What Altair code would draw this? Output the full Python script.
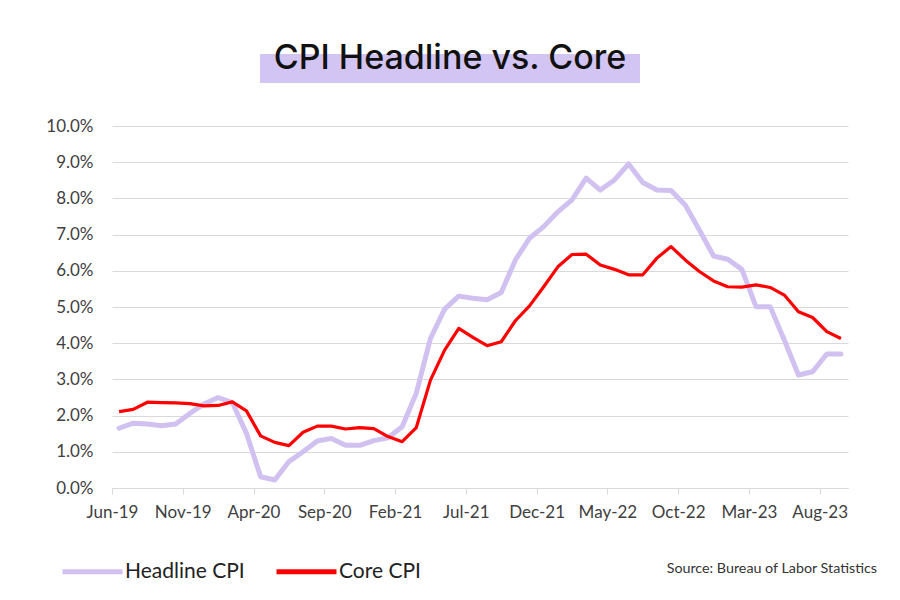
import altair as alt
import pandas as pd

months = [
    "Jun-19", "Jul-19", "Aug-19", "Sep-19", "Oct-19", "Nov-19", "Dec-19",
    "Jan-20", "Feb-20", "Mar-20", "Apr-20", "May-20", "Jun-20", "Jul-20",
    "Aug-20", "Sep-20", "Oct-20", "Nov-20", "Dec-20", "Jan-21", "Feb-21",
    "Mar-21", "Apr-21", "May-21", "Jun-21", "Jul-21", "Aug-21", "Sep-21",
    "Oct-21", "Nov-21", "Dec-21", "Jan-22", "Feb-22", "Mar-22", "Apr-22",
    "May-22", "Jun-22", "Jul-22", "Aug-22", "Sep-22", "Oct-22", "Nov-22",
    "Dec-22", "Jan-23", "Feb-23", "Mar-23", "Apr-23", "May-23", "Jun-23",
    "Jul-23", "Aug-23", "Sep-23",
]

headline_cpi = [
    1.65, 1.79, 1.77, 1.72, 1.77, 2.06, 2.32, 2.50, 2.36, 1.51,
    0.31, 0.22, 0.73, 1.00, 1.30, 1.37, 1.18, 1.18, 1.31, 1.39,
    1.69, 2.62, 4.13, 4.94, 5.30, 5.24, 5.20, 5.40, 6.30, 6.90,
    7.22, 7.63, 7.96, 8.56, 8.23, 8.51, 8.95, 8.44, 8.23, 8.22,
    7.82, 7.13, 6.41, 6.32, 6.04, 5.01, 5.01, 4.09, 3.12, 3.21,
    3.70, 3.70,
]

core_cpi = [
    2.11, 2.17, 2.37, 2.36, 2.35, 2.33, 2.27, 2.28, 2.38, 2.13,
    1.44, 1.26, 1.17, 1.54, 1.71, 1.71, 1.63, 1.67, 1.64, 1.42,
    1.28, 1.67, 2.98, 3.81, 4.41, 4.16, 3.93, 4.04, 4.62, 5.03,
    5.56, 6.11, 6.45, 6.46, 6.16, 6.04, 5.89, 5.89, 6.35, 6.67,
    6.30, 5.98, 5.72, 5.56, 5.55, 5.61, 5.54, 5.33, 4.87, 4.71,
    4.32, 4.13,
]

series_names = ["Headline CPI", "Core CPI"]
series_colors = ["#d0c1f1", "#ff0000"]
y_ticks = [0, 1, 2, 3, 4, 5, 6, 7, 8, 9, 10]
x_tick_months = months[::5]

title_text = "CPI Headline vs. Core"
source_text = "Source: Bureau of Labor Statistics"

rows = []
for i, m in enumerate(months):
    rows.append({"idx": i, "month": m, "series": "Headline CPI", "value": headline_cpi[i]})
    rows.append({"idx": i, "month": m, "series": "Core CPI", "value": core_cpi[i]})
df = pd.DataFrame(rows)

label_array = "[" + ",".join("'" + m + "'" for m in months) + "]"
x_tick_values = [months.index(m) - 0.5 for m in x_tick_months]

x_enc = alt.X(
    "idx:Q",
    scale=alt.Scale(domain=[-0.5, len(months) - 0.5], nice=False, zero=False),
    axis=alt.Axis(
        values=x_tick_values,
        labelExpr=label_array + "[round(datum.value + 0.5)]",
        title=None,
        grid=False,
        domainColor="#d9d9d9",
        domainWidth=1,
        tickColor="#d9d9d9",
        tickSize=6,
        labelPadding=10,
        labelFont="Lato",
        labelFontSize=17,
        labelColor="#404040",
        labelFlush=False,
        labelOverlap=False,
    ),
)
y_enc = alt.Y(
    "value:Q",
    scale=alt.Scale(domain=[0, 10], nice=False),
    axis=alt.Axis(
        values=y_ticks,
        labelExpr="format(datum.value, '.1f') + '%'",
        title=None,
        domain=False,
        ticks=False,
        tickSize=0,
        gridColor="#d9d9d9",
        gridWidth=1,
        labelPadding=19,
        labelFont="Lato",
        labelFontSize=17,
        labelColor="#404040",
    ),
)
color_enc = alt.Color(
    "series:N",
    scale=alt.Scale(domain=series_names, range=series_colors),
    legend=alt.Legend(
        title=None,
        orient="none",
        direction="horizontal",
        legendX=-52,
        legendY=413,
        symbolType="stroke",
        symbolSize=3600,
        symbolStrokeWidth=5,
        labelFont="Lato",
        labelFontSize=21,
        labelColor="#222222",
        labelOffset=0,
        columnPadding=21,
        labelLimit=300,
    ),
)

base = alt.Chart(df)
headline_line = base.transform_filter(alt.datum.series == "Headline CPI").mark_line(
    strokeWidth=5, strokeCap="round", strokeJoin="round"
).encode(x=x_enc, y=y_enc, color=color_enc)
core_line = base.transform_filter(alt.datum.series == "Core CPI").mark_line(
    strokeWidth=3.2, strokeJoin="round"
).encode(x=x_enc, y=y_enc, color=color_enc)

title_df = pd.DataFrame({"t": [title_text]})
title_box = alt.Chart(title_df).mark_rect(color="#d3c5f3").encode(
    x=alt.value(148), x2=alt.value(528), y=alt.value(-72), y2=alt.value(-43)
)
title_mark = alt.Chart(title_df).mark_text(
    font="Inter", fontSize=34, fontWeight=500, color="#111111",
    align="center", baseline="alphabetic"
).encode(text="t:N", x=alt.value(338), y=alt.value(-57))

source_df = pd.DataFrame({"t": [source_text]})
source_mark = alt.Chart(source_df).mark_text(
    font="Lato", fontSize=14.3, color="#333333", align="right", baseline="alphabetic"
).encode(text="t:N", x=alt.value(765), y=alt.value(447))

chart = alt.layer(
    title_box, title_mark, headline_line, core_line, source_mark
).properties(
    width=736,
    height=362,
    padding={"left": 104, "top": 118, "right": 40, "bottom": 100},
    autosize=alt.AutoSizeParams(type="none"),
    background="white",
).configure_view(stroke=None)

chart.save("out.html", embed_options={"renderer": "svg", "actions": False})
